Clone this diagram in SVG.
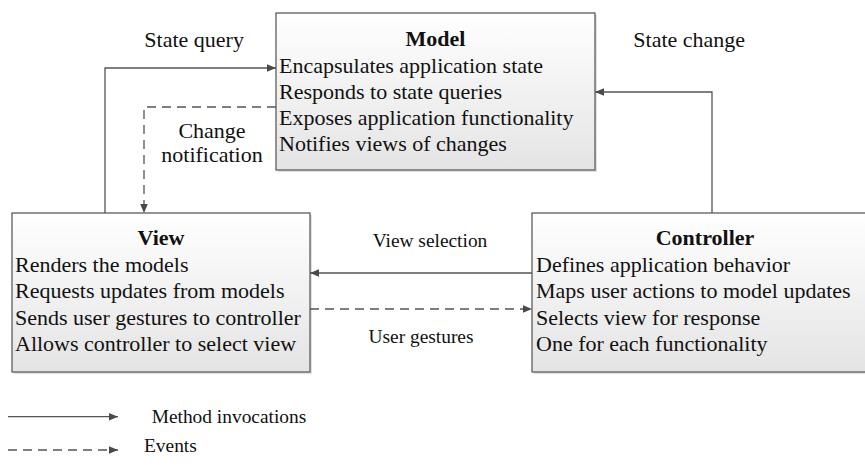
<svg xmlns="http://www.w3.org/2000/svg" width="865" height="471" viewBox="0 0 865 471">
  <defs>
    <linearGradient id="boxFill" x1="0" y1="0" x2="0" y2="1">
      <stop offset="0" stop-color="#ffffff"/>
      <stop offset="1" stop-color="#e4e4e4"/>
    </linearGradient>
    <marker id="arrow" markerUnits="userSpaceOnUse" markerWidth="10" markerHeight="10" viewBox="0 0 10 10" refX="9" refY="5" orient="auto">
      <path d="M0,1.2 L9,5 L0,8.8 Z" fill="#4a4a4a"/>
    </marker>
    <style>
      .shadow { fill: #c8c8c8; opacity: 0.55; }
      .box { fill: url(#boxFill); stroke: #5c5c5c; stroke-width: 1.3; }
      .title { font-family: "Liberation Serif", "Times New Roman", serif; font-size: 22px; font-weight: bold; fill: #111; text-anchor: middle; }
      .item { font-family: "Liberation Serif", "Times New Roman", serif; font-size: 22px; fill: #111; }
      .lbl { font-family: "Liberation Serif", "Times New Roman", serif; font-size: 22px; fill: #111; }
      .small { font-family: "Liberation Serif", "Times New Roman", serif; font-size: 19.4px; fill: #111; }
      .mid { text-anchor: middle; }
      .call { fill: none; stroke: #555; stroke-width: 1.3; marker-end: url(#arrow); }
      .event { fill: none; stroke: #555; stroke-width: 1.3; stroke-dasharray: 9 6; marker-end: url(#arrow); }
    </style>
  </defs>

  <rect width="865" height="471" fill="#ffffff"/>

  <!-- Model -->
  <g id="model">
    <rect class="shadow" x="278" y="15" width="319" height="157"/>
    <rect class="box" x="276" y="13" width="319" height="157"/>
    <text class="title" x="435.5" y="46">Model</text>
    <text class="item" x="279" y="72.5">Encapsulates application state</text>
    <text class="item" x="279" y="98.5">Responds to state queries</text>
    <text class="item" x="279" y="125">Exposes application functionality</text>
    <text class="item" x="279" y="151">Notifies views of changes</text>
  </g>

  <!-- View -->
  <g id="view">
    <rect class="shadow" x="14" y="215" width="298" height="159"/>
    <rect class="box" x="12" y="213" width="298" height="159"/>
    <text class="title" x="161" y="245">View</text>
    <text class="item" x="15" y="272">Renders the models</text>
    <text class="item" x="15" y="298">Requests updates from models</text>
    <text class="item" x="15" y="324.5">Sends user gestures to controller</text>
    <text class="item" x="15" y="351">Allows controller to select view</text>
  </g>

  <!-- Controller -->
  <g id="controller">
    <rect class="shadow" x="534" y="215" width="346" height="159"/>
    <rect class="box" x="532" y="213" width="346" height="159"/>
    <text class="title" x="705" y="245">Controller</text>
    <text class="item" x="536" y="272">Defines application behavior</text>
    <text class="item" x="536" y="298">Maps user actions to model updates</text>
    <text class="item" x="536" y="324.5">Selects view for response</text>
    <text class="item" x="536" y="351">One for each functionality</text>
  </g>

  <!-- Connectors -->
  <g id="connectors">
    <path class="call" d="M105,213 V68 H276"/>
    <path class="event" d="M276,107 H144 V213"/>
    <path class="call" d="M712,213 V92 H595"/>
    <path class="call" d="M532,273 H310"/>
    <path class="event" d="M310,309 H532"/>
  </g>

  <!-- Connector labels -->
  <g id="labels">
    <text class="lbl" x="144.3" y="46.7">State query</text>
    <text class="lbl" x="633.3" y="46.5">State change</text>
    <text class="lbl mid" x="212" y="138">Change</text>
    <text class="lbl mid" x="212" y="162">notification</text>
    <text class="small mid" x="430" y="246.7">View selection</text>
    <text class="small mid" x="421" y="342.7">User gestures</text>
  </g>

  <!-- Legend -->
  <g id="legend">
    <path class="call" d="M8,416.7 H118"/>
    <text class="small" x="151.7" y="423.3">Method invocations</text>
    <path class="event" d="M8,450 H118"/>
    <text class="small" x="144" y="451.7">Events</text>
  </g>
</svg>
